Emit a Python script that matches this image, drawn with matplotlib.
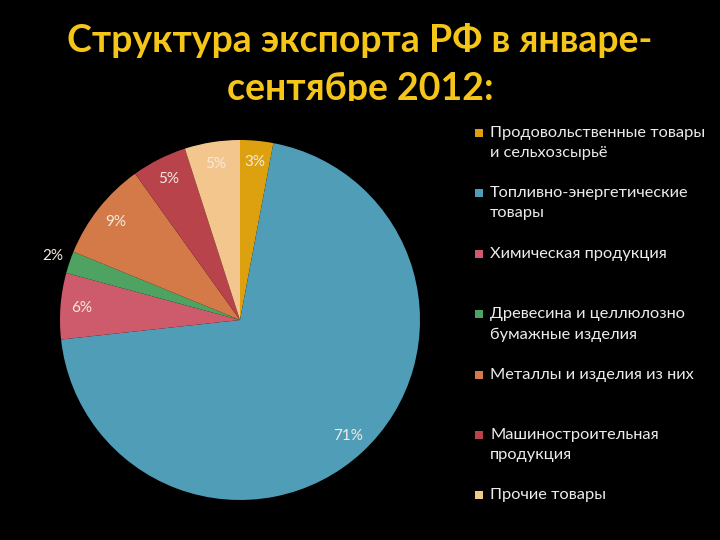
import numpy as np
import matplotlib.pyplot as plt
from matplotlib.patches import Rectangle

# data
categories = ["Продовольственные товары\nи сельхозсырьё",
              "Топливно-энергетические\nтовары",
              "Химическая продукция",
              "Древесина и целлюлозно\nбумажные изделия",
              "Металлы и изделия из них",
              "Машиностроительная\nпродукция",
              "Прочие товары"]
shares = [3, 71, 6, 2, 9, 5, 5]
colors = ["#DDA00E", "#4F9DB6", "#CE5B6B", "#4EA262", "#D47A48", "#B9434A", "#F3C68D"]
title_lines = ["Структура экспорта РФ в январе-", "сентябре 2012:"]

plt.rcParams['font.family'] = ['Lato', 'DejaVu Sans']

fig = plt.figure(figsize=(7.2, 5.4), dpi=100, facecolor="black")

# title, bottom line is clipped like in the original slide
clip = Rectangle((0, 1 - 101 / 540), 1, 1, transform=fig.transFigure)
for k, line in enumerate(title_lines):
    t = fig.text(0.5, 1 - (41 + 48 * k) / 540, line, ha="center", va="center",
                 fontsize=27, color="#F5C518", fontweight="bold")
    t.set_clip_path(clip)

ax = fig.add_axes([60 / 720, 40 / 540, 360 / 720, 360 / 540])
ax.set_facecolor("black")
wedges, _ = ax.pie(shares, colors=colors, startangle=90, counterclock=False,
                   wedgeprops=dict(linewidth=0))
ax.set_xlim(-1, 1)
ax.set_ylim(-1, 1)
ax.set_aspect("equal")
ax.axis("off")

# percent labels
cum = np.cumsum(shares) - np.array(shares) / 2.0
for i, v in enumerate(shares):
    ang = np.deg2rad(90 - cum[i] / sum(shares) * 360)
    r = 0.88
    if v == 2:
        r = 1.1
    ax.text(r * np.cos(ang), r * np.sin(ang), str(v) + "%", ha="center", va="center",
            fontsize=11, color="#F4EAE0", clip_on=False)

# legend drawn by hand
y0 = 133
step = 60.4
for i, lab in enumerate(categories):
    y = y0 + i * step
    fig.patches.append(Rectangle((475 / 720, 1 - (y + 4) / 540), 8 / 720, 8 / 540,
                                 transform=fig.transFigure, facecolor=colors[i],
                                 edgecolor="none"))
    fig.text(490 / 720, 1 - (y - 7) / 540, lab, ha="left", va="top", fontsize=11.8,
             color="#ECECEC", linespacing=1.55)

fig.savefig("out.png", dpi=100, facecolor="black")
